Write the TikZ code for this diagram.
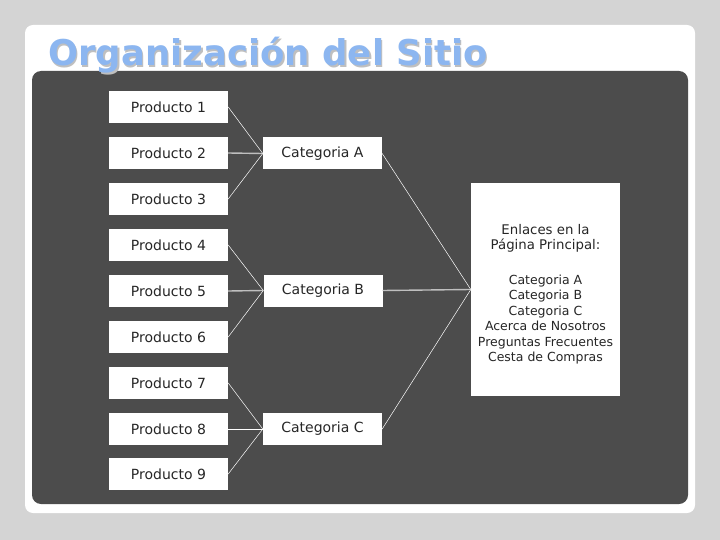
\documentclass[tikz,border=0pt]{standalone}
\usepackage{fontspec}
\setmainfont{DejaVu Sans}
\newfontfamily\titlefont{DejaVu Sans}
\begin{document}
\begin{tikzpicture}[x=1pt,y=-1pt,
  boxs/.style={draw=none,fill=white,minimum width=119pt,minimum height=32pt,inner sep=0pt,font=\fontsize{14}{16}\selectfont,text=black!85},
  diag/.style={draw=white,line width=0.5pt},
  horiz/.style={draw=black!25,line width=1.4pt}]
\useasboundingbox (0,0) rectangle (720,540);
\fill[black!17] (0,0) rectangle (720,540);
\fill[white,rounded corners=8pt] (25,25) rectangle (695,513);
\fill[black!70,rounded corners=9pt] (32,71) rectangle (688,504);
\node[anchor=base west,inner sep=0pt,text=black!25,font=\titlefont\bfseries\fontsize{35.5}{38}\selectfont] (tsh) at (49.5,67.5) {Organización del Sitio};
\node[anchor=base west,inner sep=0pt,text={rgb,255:red,140;green,182;blue,240},font=\titlefont\bfseries\fontsize{35.5}{38}\selectfont] (title) at (48,66) {Organización del Sitio};
\foreach \i/\y in {1/107,2/153,3/199,4/245,5/291,6/337,7/383,8/429,9/474}
  \node[boxs] (p\i) at (168.5,\y) {Producto \i};
\node[boxs] (ca) at (322.5,153.5) {Categoria A};
\node[boxs] (cb) at (323,290.5) {Categoria B};
\node[boxs] (cc) at (322.5,429) {Categoria C};
\node[fill=white,minimum width=149pt,minimum height=213pt,inner sep=0pt] (main) at (545.5,289.5) {};
\node[align=center,font=\fontsize{12.5}{15.5}\selectfont,text=black!85,inner sep=0pt,anchor=north] (mt) at (545.5,224) {{\fontsize{13.3}{16}\selectfont Enlaces en la}\\{\fontsize{13.3}{16}\selectfont Página Principal:}\\[19pt]Categoria A\\Categoria B\\Categoria C\\Acerca de Nosotros\\Preguntas Frecuentes\\Cesta de Compras};
\draw[diag] (p1.east) -- (ca.west);
\draw[horiz] (p2.east) -- (ca.west);
\draw[diag] (p3.east) -- (ca.west);
\draw[diag] (p4.east) -- (cb.west);
\draw[horiz] (p5.east) -- (cb.west);
\draw[diag] (p6.east) -- (cb.west);
\draw[diag] (p7.east) -- (cc.west);
\draw[diag] (p8.east) -- (cc.west);
\draw[diag] (p9.east) -- (cc.west);
\draw[diag] (ca.east) -- (main.west);
\draw[horiz] (cb.east) -- (main.west);
\draw[diag] (cc.east) -- (main.west);
\end{tikzpicture}
\end{document}
